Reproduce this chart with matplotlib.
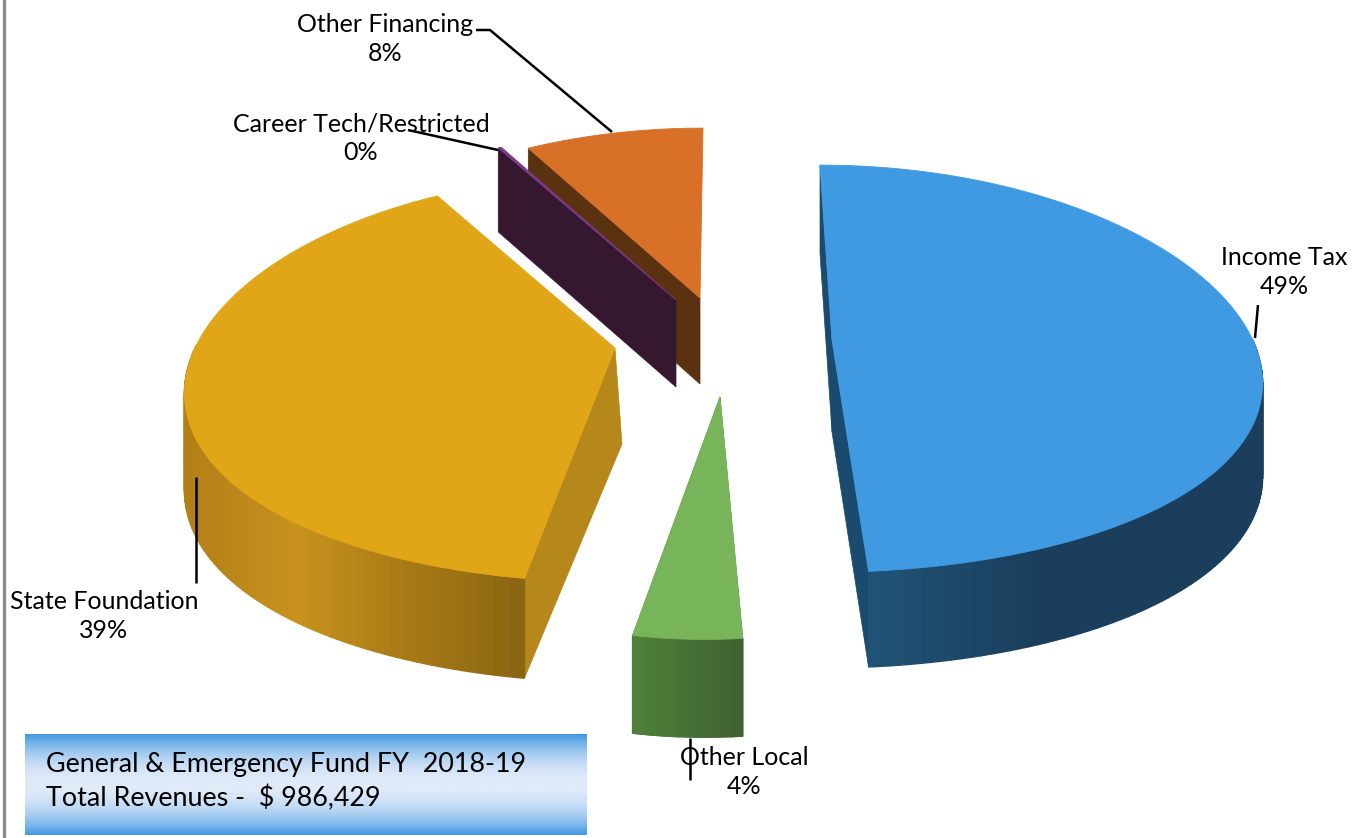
import numpy as np
import matplotlib.pyplot as plt
from matplotlib.colors import LinearSegmentedColormap
from matplotlib.patches import Polygon

plt.rcParams['font.family'] = ['Lato', 'DejaVu Sans']

labels = ['Income Tax', 'Other Local', 'State Foundation', 'Career Tech/Restricted', 'Other Financing']
values = [48.6, 4.1, 38.9, 0.15, 8.25]
total_revenues = 986429
title_line = 'General & Emergency Fund FY  2018-19'

top_colors = ['#3f9ae2', '#78b55a', '#e0a618', '#7a3a8a', '#d87027']
side_colors = ['#1a4a6e', '#4c7c38', '#b6871a', '#351730', '#5a3210']
wall_colors = [['#22597f', '#1a3e5c', '#1a3e5c'], ['#4f8039', '#3f6230'],
               ['#b27f18', '#c8921c', '#a87a16', '#8a6512'], ['#351730', '#351730'], ['#5a3210', '#5a3210']]

# pie shape in pixels
A, B = 420, 199
PX, PY = 0.22, 0.151
centers = [(820, 338), (705, 405), (615, 348), (676, 300), (703, 301)]
apexes = [(832, 340), (720, 397), (615, 348), (676, 300), (700, 298)]
depths = [92, 94, 96, 87, 86]
widths = [1.028, 0.8, 1.0, 1.0, 1.0]
apex_shift = [0, 0, 7, 0, 0]


def rim(t, cx, cy, w):
    sx, sy = np.sin(t), np.cos(t)
    return cx + w * A * sx / (1 + PX * sy), cy - B * sy / (1 + PY * sy)


fig = plt.figure(figsize=(13.57, 8.38), dpi=100)
ax = fig.add_axes([0, 0, 1, 1])
ax.set_xlim(0, 1357)
ax.set_ylim(838, 0)
ax.axis('off')

ax.plot([4, 4], [0, 838], color='#8a8a8a', lw=2.4, zorder=1)

edges = np.cumsum([0] + values) / sum(values) * 2 * np.pi
order = [4, 3, 2, 0, 1]
for z, i in enumerate(order):
    t = np.linspace(edges[i], edges[i + 1], 160)
    x, y = rim(t, *centers[i], widths[i])
    drop = depths[i] * (1 - 0.04 * np.cos(t))
    ax_, ay_ = apexes[i]
    base = 10 + z * 3
    # flat sides from the rim ends to the apex, the far end edge stays hidden
    for k in (0, -1):
        if k == -1 and np.cos(t[-1]) > 0:
            continue
        ax.add_patch(Polygon([(x[k], y[k]), (ax_, ay_), (ax_ + apex_shift[i], ay_ + depths[i]), (x[k], y[k] + drop[k])],
                             fc=side_colors[i], ec=side_colors[i], lw=0.5, zorder=base))
    # curved outer wall, shaded along the rim
    cmap = LinearSegmentedColormap.from_list('wall', wall_colors[i])
    span = max(x.max() - x.min(), 1)
    for k in range(len(t) - 1):
        if np.cos(t[k]) > 0:
            continue
        c = cmap((x[k] - x.min()) / span)
        ax.add_patch(Polygon([(x[k], y[k]), (x[k + 1], y[k + 1]),
                              (x[k + 1], y[k + 1] + drop[k + 1]), (x[k], y[k] + drop[k])],
                             fc=c, ec=c, lw=1.0, zorder=base + 1))
    top = np.column_stack([np.r_[x, ax_], np.r_[y, ay_]])
    ax.add_patch(Polygon(top, fc=top_colors[i], ec=top_colors[i], lw=0.6, zorder=base + 2))

# leader lines
leaders = {
    'Income Tax': ([1258, 1255], [305, 338]),
    'Other Local': ([690, 690], [738, 780]),
    'State Foundation': ([196, 196], [477, 583]),
    'Career Tech/Restricted': ([408, 498], [130, 150]),
    'Other Financing': ([476, 490, 612], [30, 30, 132]),
}
for name in labels:
    ax.plot(*leaders[name], color='black', lw=1.8, zorder=40, solid_capstyle='butt')

label_pos = [(1284, 272), (744, 772), (104, 616), (361, 138), (385, 39)]
for name, v, (lx, ly) in zip(labels, values, label_pos):
    ax.text(lx, ly, f'{name}\n{v:.0f}%', ha='center', va='center', fontsize=18,
            linespacing=1.3, color='black', zorder=41)

# title box
grad = np.abs(np.linspace(-1, 1, 200))[:, None] ** 2
box_cmap = LinearSegmentedColormap.from_list('box', ['#e0eaf9', '#4099e2'])
ax.imshow(grad, extent=(25, 587, 835, 735), cmap=box_cmap, aspect='auto', zorder=30)
ax.set_xlim(0, 1357)
ax.set_ylim(838, 0)
ax.text(46, 764, title_line, ha='left', va='center', fontsize=19.4, zorder=31)
ax.text(46, 798, f'Total Revenues -  $ {total_revenues:,}', ha='left', va='center', fontsize=19.4, zorder=31)

plt.savefig('out.png', dpi=100)
